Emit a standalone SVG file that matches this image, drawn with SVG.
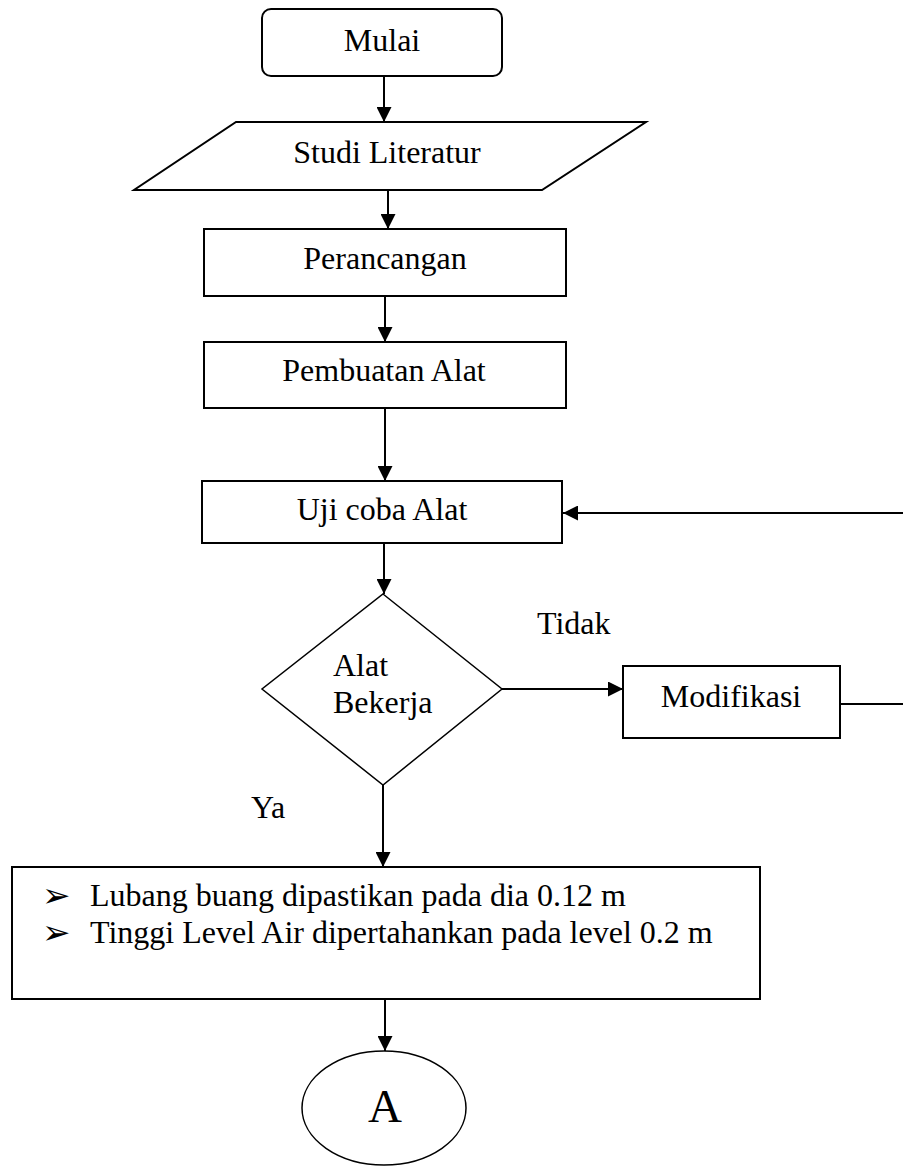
<svg xmlns="http://www.w3.org/2000/svg" width="903" height="1172" viewBox="0 0 903 1172">
<style>
.shape{fill:#fff;stroke:#000;stroke-width:2}
.thin{fill:#fff;stroke:#000;stroke-width:1.5}
.t{font-family:"Liberation Serif","Times New Roman",serif;font-size:32px;fill:#000}
.c{text-anchor:middle}
.conn{fill:none;stroke:#000;stroke-width:2}
.bul{font-family:"DejaVu Sans",sans-serif;font-size:34px;fill:#000}
</style>
<defs>
<marker id="ah" markerUnits="userSpaceOnUse" markerWidth="15" markerHeight="15" refX="15" refY="7.5" orient="auto">
<path d="M0,0 L15,7.5 L0,15 z" fill="#000"/>
</marker>
</defs>
<rect width="903" height="1172" fill="#fff"/>
<g id="connectors">
<path class="conn" d="M384,76 V122" marker-end="url(#ah)"/>
<path class="conn" d="M388,190 V229" marker-end="url(#ah)"/>
<path class="conn" d="M385,296 V342" marker-end="url(#ah)"/>
<path class="conn" d="M385,408 V481" marker-end="url(#ah)"/>
<path class="conn" d="M384,543 V594" marker-end="url(#ah)"/>
<path class="conn" d="M502,689 H623" marker-end="url(#ah)"/>
<path class="conn" d="M383,785 V867" marker-end="url(#ah)"/>
<path class="conn" d="M385,999 V1051" marker-end="url(#ah)"/>
<path class="conn" d="M840,704 H908 V513 H563" marker-end="url(#ah)"/>
</g>
<g id="mulai">
<rect class="shape" x="262" y="9" width="240" height="67" rx="9"/>
<text class="t c" x="382" y="51">Mulai</text>
</g>
<g id="studi">
<polygon class="shape" points="236,122 646,122 542,190 134,190"/>
<text class="t c" x="387" y="163">Studi Literatur</text>
</g>
<g id="perancangan">
<rect class="shape" x="204" y="229" width="362" height="67"/>
<text class="t c" x="385" y="269">Perancangan</text>
</g>
<g id="pembuatan">
<rect class="shape" x="204" y="342" width="362" height="66"/>
<text class="t c" x="384" y="381">Pembuatan Alat</text>
</g>
<g id="ujicoba">
<rect class="shape" x="202" y="481" width="360" height="62"/>
<text class="t c" x="382" y="520">Uji coba Alat</text>
</g>
<g id="decision">
<polygon class="thin" points="383,594 502,689 383,785 262,689"/>
<text class="t" x="333" y="676">Alat</text>
<text class="t" x="333" y="713">Bekerja</text>
</g>
<g id="labels">
<text class="t" x="537" y="634">Tidak</text>
<text class="t" x="251" y="818">Ya</text>
</g>
<g id="modifikasi">
<rect class="shape" x="623" y="666" width="217" height="72"/>
<text class="t c" x="731" y="707">Modifikasi</text>
</g>
<g id="hasil">
<rect class="shape" x="12" y="867" width="748" height="132"/>
<text class="bul" x="42" y="907">➢</text>
<text class="t" x="90" y="906">Lubang buang dipastikan pada dia 0.12 m</text>
<text class="bul" x="42" y="944">➢</text>
<text class="t" x="90" y="943">Tinggi Level Air dipertahankan pada level 0.2 m</text>
</g>
<g id="connectorA">
<ellipse class="thin" cx="384" cy="1108" rx="82" ry="57"/>
<text class="t c" x="385" y="1122" style="font-size:47px">A</text>
</g>
</svg>
